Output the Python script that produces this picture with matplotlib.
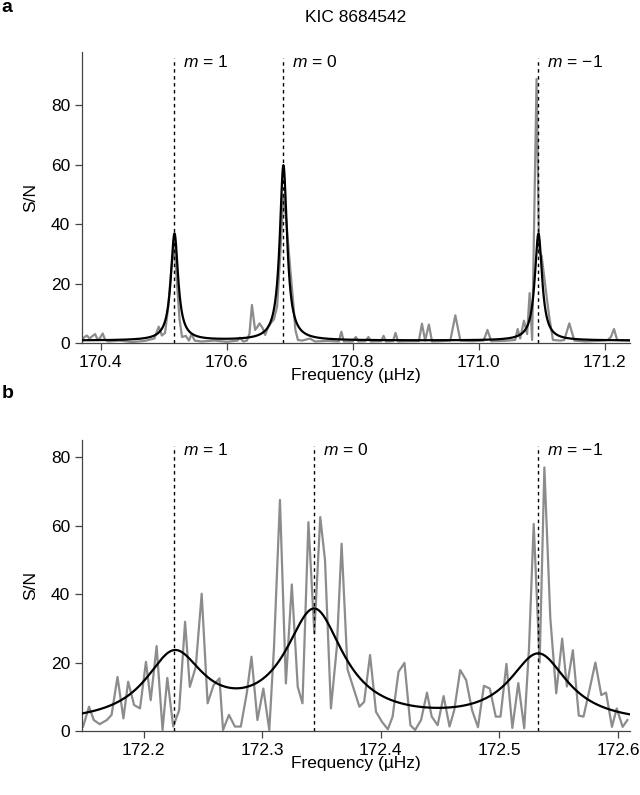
import numpy as np
import matplotlib
matplotlib.use('Agg')
import matplotlib.pyplot as plt

plt.rcParams['font.family'] = ['Liberation Sans', 'DejaVu Sans']
plt.rcParams['mathtext.fontset'] = 'custom'
plt.rcParams['mathtext.it'] = 'Liberation Sans:italic'
plt.rcParams['mathtext.rm'] = 'Liberation Sans'
plt.rcParams['font.size'] = 12.5

# panel a: observed spectrum (frequency in muHz, S/N)
freq_a = np.array([170.370, 170.374, 170.378, 170.382, 170.386, 170.391, 170.395, 170.399, 170.403, 170.407,
                   170.412, 170.430, 170.450, 170.470, 170.485, 170.492, 170.497, 170.502, 170.507, 170.512,
                   170.517, 170.521, 170.525, 170.529, 170.535, 170.540, 170.544, 170.549, 170.560, 170.580,
                   170.600, 170.617, 170.621, 170.626, 170.632, 170.636, 170.640, 170.645, 170.649, 170.652,
                   170.657, 170.661, 170.666, 170.670, 170.675, 170.680, 170.685, 170.690, 170.695, 170.700,
                   170.705, 170.709, 170.713, 170.720, 170.732, 170.740, 170.760, 170.778, 170.782, 170.786,
                   170.800, 170.805, 170.809, 170.820, 170.825, 170.829, 170.845, 170.849, 170.853, 170.864,
                   170.868, 170.872, 170.890, 170.905, 170.910, 170.915, 170.921, 170.926, 170.940, 170.955,
                   170.963, 170.971, 170.990, 171.008, 171.014, 171.020, 171.040, 171.058, 171.062, 171.066,
                   171.072, 171.077, 171.081, 171.085, 171.092, 171.096, 171.100, 171.108, 171.112, 171.118,
                   171.130, 171.136, 171.144, 171.152, 171.170, 171.190, 171.205, 171.210, 171.215, 171.220,
                   171.240])
sn_a = np.array([1.0, 2.0, 2.5, 1.5, 2.2, 3.0, 1.0, 1.8, 3.2, 1.0,
                 0.5, 0.8, 0.3, 0.7, 1.5, 5.5, 2.5, 3.4, 12.0, 25.0,
                 33.0, 20.0, 8.0, 2.0, 2.4, 0.8, 3.0, 0.8, 0.5, 0.8,
                 0.4, 0.8, 1.8, 0.5, 0.8, 3.0, 12.8, 4.4, 5.5, 6.6,
                 5.0, 2.7, 5.5, 6.7, 8.0, 12.3, 30.0, 50.0, 40.0, 27.0,
                 15.0, 4.4, 1.0, 0.8, 1.5, 0.5, 0.7, 0.5, 3.8, 0.5,
                 0.5, 2.0, 0.5, 0.6, 2.0, 0.5, 0.6, 2.4, 0.5, 0.6,
                 3.4, 0.5, 0.6, 0.6, 6.5, 0.8, 6.2, 0.5, 0.6, 0.8,
                 9.3, 0.8, 0.6, 0.8, 4.4, 0.6, 0.7, 1.0, 4.7, 1.5,
                 7.5, 3.0, 16.8, 1.0, 88.9, 30.4, 29.4, 15.6, 9.0, 1.0,
                 0.8, 1.0, 6.6, 0.8, 0.5, 0.7, 1.0, 2.0, 4.7, 1.0,
                 0.8])

# panel a: fitted Lorentzian modes
nu_a = [170.517, 170.690, 171.095]
height_a = [36.0, 59.0, 36.0]
hwhm_a = 0.007
bg_a = 0.8

# panel b: observed spectrum
freq_b = np.array([172.149, 172.154, 172.158, 172.163, 172.169, 172.173, 172.178, 172.183, 172.187, 172.192,
                   172.197, 172.202, 172.206, 172.211, 172.216, 172.220, 172.225, 172.230, 172.235, 172.239,
                   172.244, 172.249, 172.254, 172.259, 172.264, 172.267, 172.272, 172.277, 172.282, 172.287,
                   172.291, 172.296, 172.301, 172.306, 172.310, 172.315, 172.320, 172.325, 172.330, 172.334,
                   172.339, 172.344, 172.349, 172.353, 172.358, 172.363, 172.367, 172.372, 172.382, 172.386,
                   172.391, 172.396, 172.401, 172.406, 172.410, 172.415, 172.420, 172.425, 172.429, 172.434,
                   172.439, 172.443, 172.448, 172.453, 172.458, 172.462, 172.467, 172.472, 172.477, 172.482,
                   172.487, 172.492, 172.497, 172.501, 172.506, 172.511, 172.516, 172.521, 172.525, 172.529,
                   172.534, 172.538, 172.543, 172.548, 172.553, 172.557, 172.562, 172.567, 172.571, 172.576,
                   172.581, 172.586, 172.590, 172.595, 172.599, 172.604, 172.608])
sn_b = np.array([1.3, 7.1, 3.2, 2.0, 3.2, 4.7, 15.8, 3.7, 14.4, 7.6,
                 6.6, 20.2, 9.0, 24.8, 0.3, 15.5, 1.3, 6.1, 31.9, 12.9,
                 18.7, 40.1, 8.1, 13.4, 15.4, 0.3, 4.7, 1.3, 1.3, 11.0,
                 21.7, 3.2, 12.4, 0.3, 24.6, 67.5, 13.9, 42.8, 12.9, 8.1,
                 61.0, 28.6, 62.5, 49.9, 6.6, 24.6, 54.7, 18.0, 7.1, 8.5,
                 22.2, 5.6, 2.7, 0.5, 4.2, 17.3, 19.9, 1.7, 0.3, 3.2,
                 11.2, 4.2, 1.7, 10.2, 1.3, 6.1, 17.8, 14.9, 6.1, 1.1,
                 13.2, 12.4, 4.2, 4.2, 19.6, 0.9, 14.0, 0.8, 24.0, 60.5,
                 20.0, 77.0, 33.0, 11.0, 27.0, 13.0, 23.6, 4.5, 4.2, 12.0,
                 20.0, 10.5, 11.2, 1.2, 6.6, 1.2, 3.2])

# panel b: fitted Lorentzian modes
nu_b = [172.226, 172.344, 172.533]
height_b = [19.8, 32.4, 20.0]
hwhm_b = 0.030
bg_b = 1.7

mode_labels = ['$m$ = 1', '$m$ = 0', '$m$ = \u22121']


def lorentz_model(f, nus, heights, hwhm, bg):
    y = np.full_like(f, bg)
    for nu, h in zip(nus, heights):
        y += h / (1 + ((f - nu) / hwhm) ** 2)
    return y


fig = plt.figure(figsize=(6.4, 7.95), dpi=100)
ax_a = fig.add_axes([0.128, 0.5686, 0.856, 0.366])
ax_b = fig.add_axes([0.128, 0.0805, 0.856, 0.366])

panels = [
    (ax_a, freq_a, sn_a, nu_a, height_a, hwhm_a, bg_a, (170.37, 171.24), (0, 98),
     [170.4, 170.6, 170.8, 171.0, 171.2]),
    (ax_b, freq_b, sn_b, nu_b, height_b, hwhm_b, bg_b, (172.148, 172.61), (0, 85),
     [172.2, 172.3, 172.4, 172.5, 172.6]),
]

for ax, fr, sn, nus, hs, w, bg, xl, yl, xt in panels:
    ax.plot(fr, sn, color='#8c8c8c', lw=1.6, zorder=2)
    ff = np.linspace(xl[0], xl[1], 3000)
    ax.plot(ff, lorentz_model(ff, nus, hs, w, bg), color='black', lw=1.6, zorder=3)
    for nu, lab in zip(nus, mode_labels):
        ax.axvline(nu, ymin=0, ymax=0.98, color='black', lw=1.0, ls=(0, (2.5, 2.5)), zorder=4)
        ax.text(nu, 0.965, '  ' + lab, transform=ax.get_xaxis_transform(),
                ha='left', va='center', fontsize=12.5)
    ax.set_xlim(*xl)
    ax.set_ylim(*yl)
    ax.set_xticks(xt)
    ax.set_xticklabels([f'{t:.1f}' for t in xt])
    ax.set_yticks([0, 20, 40, 60, 80])
    for s in ['top', 'right']:
        ax.spines[s].set_visible(False)
    for s in ['left', 'bottom']:
        ax.spines[s].set_color('#444444')
        ax.spines[s].set_linewidth(0.9)
    ax.tick_params(direction='out', length=5, width=0.9, color='#444444', labelsize=12.5)
    ax.set_xlabel('Frequency (\u00b5Hz)', fontsize=12.5, labelpad=-1)
    ax.set_ylabel('S/N', fontsize=12.5)
    ax.yaxis.set_label_coords(-0.08, 0.5)

fig.text(356 / 640, 1 - 18 / 795, 'KIC 8684542', ha='center', va='center', fontsize=12.5)
fig.text(0.002, 1 - 8 / 795, 'a', ha='left', va='center', fontsize=14, weight='bold')
fig.text(0.002, 1 - 394 / 795, 'b', ha='left', va='center', fontsize=14, weight='bold')

fig.savefig('out.png', dpi=100)
